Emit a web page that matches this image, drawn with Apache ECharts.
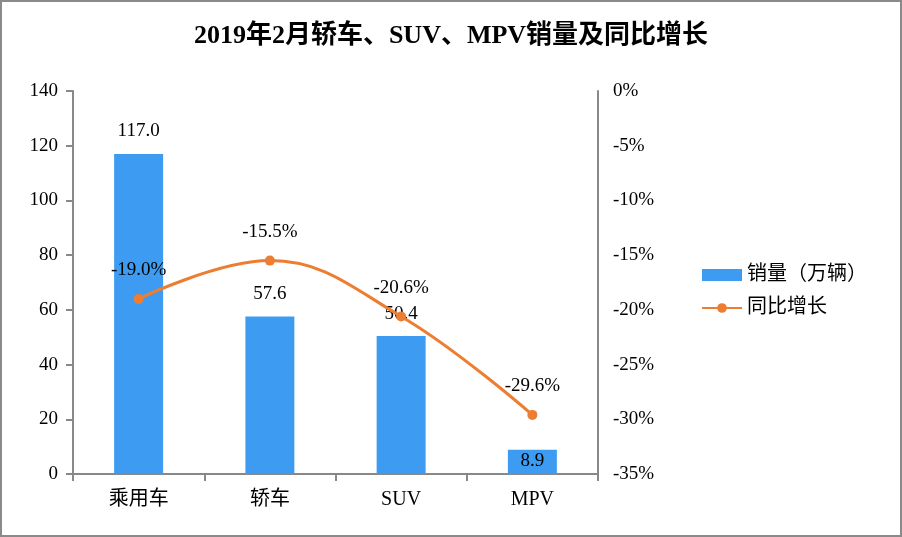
<!DOCTYPE html>
<html><head><meta charset="utf-8">
<script src="https://cdn.jsdelivr.net/npm/echarts@6/dist/echarts.min.js"></script>
<style>html,body{margin:0;padding:0;background:#fff}#c{width:902px;height:537px}</style>
</head><body><div id="c"></div>
<script>
const categories = ['乘用车', '轿车', 'SUV', 'MPV'];
const sales = [117.0, 57.6, 50.4, 8.9];
const growth = [-19.0, -15.5, -20.6, -29.6];
const leftTicks = { min: 0, max: 140, interval: 20 };
const rightTicks = { min: -35, max: 0, interval: 5 };

const FONT = "'Liberation Serif', 'Noto Sans CJK SC', serif";
const chart = echarts.init(document.getElementById('c'));
const barData = sales.map((v, i) => i === sales.length - 1
  ? { value: v, label: { position: 'insideTop', distance: 2 } }
  : v);
chart.setOption({
  backgroundColor: '#fff',
  textStyle: { fontFamily: FONT, color: '#000' },
  graphic: [{ type: 'rect', shape: { x: 1, y: 1, width: 900, height: 535 }, style: { fill: 'none', stroke: '#8a8a8a', lineWidth: 2 }, z: 100 }],
  title: {
    text: '2019年2月轿车、SUV、MPV销量及同比增长',
    left: 'center', top: 18,
    textStyle: { fontFamily: FONT, fontSize: 26, fontWeight: 'bold', color: '#000' }
  },
  legend: {
    orient: 'vertical', left: 696, top: 260,
    itemWidth: 40, itemHeight: 12, itemGap: 13,
    textStyle: { fontFamily: FONT, fontSize: 20, color: '#000' },
    data: [{ name: '销量（万辆）', icon: 'rect' }, { name: '同比增长' }]
  },
  grid: { left: 73, right: 304, top: 91, bottom: 63, containLabel: false },
  xAxis: {
    type: 'category', data: categories,
    axisLine: { lineStyle: { color: '#888', width: 2 } },
    axisTick: { show: true, length: 7, lineStyle: { color: '#888', width: 2 } },
    axisLabel: { fontFamily: FONT, fontSize: 20, color: '#000', margin: 16 }
  },
  yAxis: [{
    type: 'value', min: leftTicks.min, max: leftTicks.max, interval: leftTicks.interval,
    axisLine: { show: true, lineStyle: { color: '#888', width: 2 } },
    axisTick: { show: true, length: 7, lineStyle: { color: '#888', width: 2 } },
    splitLine: { show: false },
    axisLabel: { fontFamily: FONT, fontSize: 19, color: '#000', margin: 15 }
  }, {
    type: 'value', min: rightTicks.min, max: rightTicks.max, interval: rightTicks.interval,
    position: 'right',
    axisLine: { show: true, lineStyle: { color: '#888', width: 2 } },
    axisTick: { show: false },
    splitLine: { show: false },
    axisLabel: { fontFamily: FONT, fontSize: 19, color: '#000', margin: 15, formatter: '{value}%' }
  }],
  series: [{
    name: '销量（万辆）', type: 'bar', data: barData, barWidth: 49,
    itemStyle: { color: '#3d9cf2' },
    label: { show: true, position: 'top', distance: 13, fontFamily: FONT, fontSize: 19, color: '#000',
      formatter: p => Number(p.value).toFixed(1) }
  }, {
    name: '同比增长', type: 'line', yAxisIndex: 1, data: growth, smooth: 0.4,
    symbol: 'circle', symbolSize: 10,
    lineStyle: { color: '#ed7d31', width: 3 },
    itemStyle: { color: '#ed7d31' },
    label: { show: true, position: 'top', distance: 14, fontFamily: FONT, fontSize: 19, color: '#000',
      formatter: p => Number(p.value).toFixed(1) + '%' }
  }]
});
</script></body></html>
